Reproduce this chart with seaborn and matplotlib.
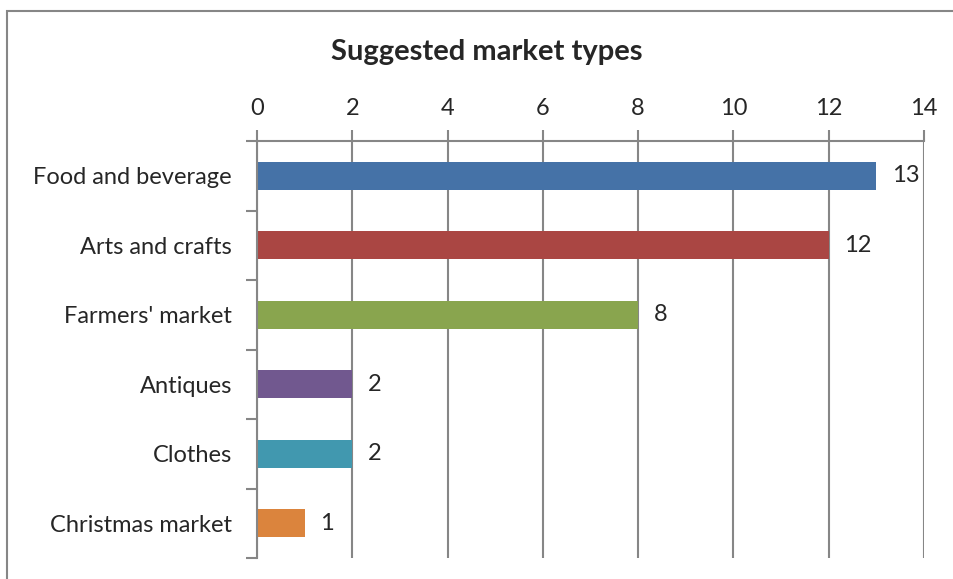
import numpy as np
import pandas as pd
import matplotlib.pyplot as plt
import seaborn as sns
from matplotlib.patches import Rectangle

categories = ["Food and beverage", "Arts and crafts", "Farmers' market", "Antiques", "Clothes", "Christmas market"]
counts = [13, 12, 8, 2, 2, 1]
colors = ["#4572A7", "#AA4643", "#89A54E", "#71588F", "#4198AF", "#DB843D"]
xticks = [0, 2, 4, 6, 8, 10, 12, 14]

df = pd.DataFrame({"type": categories, "count": counts})

sns.set_style("white")
plt.rcParams['font.family'] = ['Lato', 'DejaVu Sans']

fig = plt.figure(figsize=(9.54, 5.79), dpi=100)
ax = fig.add_axes([257/954, 1-558/579, (924-257)/954, (558-141)/579])

sns.barplot(data=df, x="count", y="type", hue="type", palette=colors,
            orient="h", width=0.4, dodge=False, legend=False, ax=ax,
            saturation=1, linewidth=0)

grid_c = "#868686"
ax.set_xlim(0, 14)
ax.set_ylim(5.5, -0.5)
ax.set_xticks(xticks)
ax.set_xticklabels([str(t) for t in xticks])
ax.xaxis.tick_top()
ax.xaxis.set_label_position("top")
ax.grid(axis="x", color=grid_c, linewidth=1.5)
ax.set_axisbelow(True)
ax.set_xlabel("")
ax.set_ylabel("")

for s in ["right", "bottom"]:
    ax.spines[s].set_visible(False)
for s in ["left", "top"]:
    ax.spines[s].set_color(grid_c)
    ax.spines[s].set_linewidth(1.5)

ax.tick_params(axis="x", top=True, length=8, width=1.5, color=grid_c, labelsize=17, pad=8)
ax.tick_params(axis="y", which="major", length=0, labelsize=17, pad=18)
ax.set_yticks(np.arange(-0.5, 6, 1), minor=True)
ax.tick_params(axis="y", which="minor", left=True, length=8, width=1.5, color=grid_c)

for c in ax.containers:
    ax.bar_label(c, padding=11, fontsize=17)

fig.text(487/954, 1-52/579, "Suggested market types", ha="center", va="center",
         fontsize=21, fontweight="bold")

fig.patches.append(Rectangle((7/954, -0.1), 1.2, 1-11/579+0.1, transform=fig.transFigure,
                             fill=False, edgecolor="#868686", linewidth=1.5))

fig.savefig("out.png", dpi=100)
